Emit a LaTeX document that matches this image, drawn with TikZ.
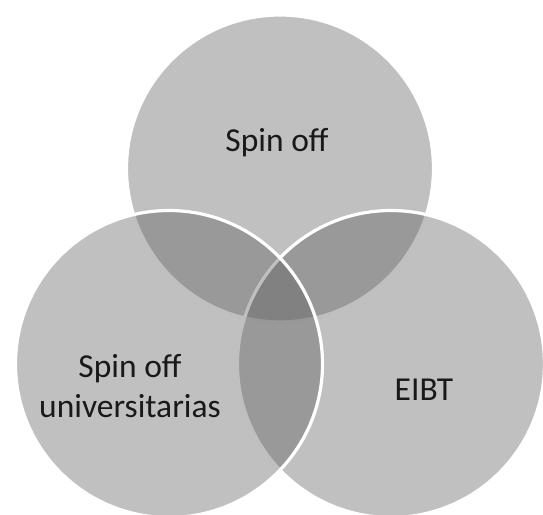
\documentclass[tikz,border=0pt]{standalone}
\usepackage{fontspec}
\setmainfont{Carlito}
\usetikzlibrary{positioning}
\tikzset{
venn/.style={fill=black!64, fill opacity=0.39, draw=white, line width=1.6pt},
vlabel/.style={font=\fontsize{16.75}{20}\selectfont, text=black!90, align=center, inner sep=0pt}
}

\begin{document}
\begin{tikzpicture}[x=0.5pt, y=-0.5pt]
   \useasboundingbox (0,0) rectangle (543,515);
   \clip (0,0) rectangle (543,515);
   \coordinate (ctop) at (280,168.5);
   \coordinate (cright) at (391,364);
   \coordinate (cleft) at (169,364);
   \draw[venn] (ctop) circle (153.5);
   \draw[venn] (cright) circle (153.5);
   \draw[venn] (cleft) circle (153.5);
   \node[vlabel, anchor=base] (spinoff) at (277,151) {Spin off};
   \node[vlabel, anchor=base] (univ) at (130,417) {Spin off\\universitarias};
   \node[vlabel, anchor=base] (eibt) at (424,400) {EIBT};
 \end{tikzpicture}
\end{document}
